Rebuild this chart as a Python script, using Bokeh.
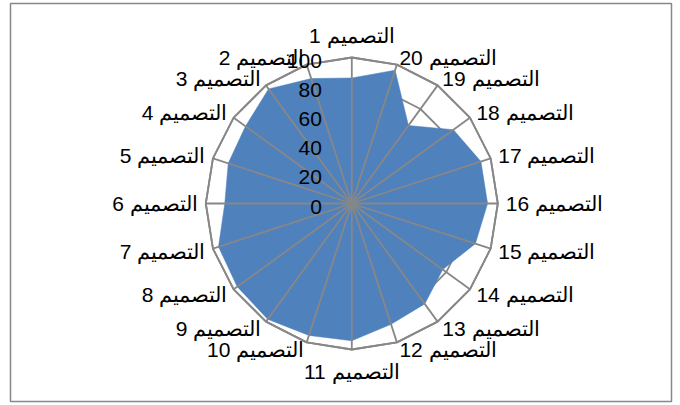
import numpy as np
from bokeh.plotting import figure
from bokeh.models import ColumnDataSource, Range1d
from bokeh.core.properties import value
from bokeh.embed import file_html
from bokeh.resources import INLINE

# ---- data ----
categories = ["التصميم 1", "التصميم 2", "التصميم 3", "التصميم 4", "التصميم 5",
              "التصميم 6", "التصميم 7", "التصميم 8", "التصميم 9", "التصميم 10",
              "التصميم 11", "التصميم 12", "التصميم 13", "التصميم 14", "التصميم 15",
              "التصميم 16", "التصميم 17", "التصميم 18", "التصميم 19", "التصميم 20"]
values = [86, 90, 97, 90, 89, 87, 96, 97, 98, 95, 94, 87, 85, 77, 89, 93, 93, 86, 66, 96]
ticks = [0, 20, 40, 60, 80, 100]
tick_labels = ["0", "20", "40", "60", "80", "100"]

# ---- layout ----
W, H = 680, 405
ml, mt, mr, mb = 10, 3, 9, 4
k = 1.46                     # px per value unit
cx_px, cy_px = 351.3, 203.0  # centre in page pixels
fw, fh = W - ml - mr, H - mt - mb
x0 = -(cx_px - ml) / k
x1 = (fw - (cx_px - ml)) / k
y0 = -((H - mb) - cy_px) / k
y1 = (cy_px - mt) / k

GRID = "#878787"
FONT = "Liberation Sans"

p = figure(width=W, height=H, x_range=Range1d(x0, x1), y_range=Range1d(y0, y1),
           min_border_left=ml, min_border_right=mr, min_border_top=mt, min_border_bottom=mb,
           x_axis_location=None, y_axis_location=None,
           toolbar_location=None, output_backend="svg")
p.grid.visible = False
p.outline_line_color = GRID
p.outline_line_width = 1.5
p.background_fill_color = "white"
p.border_fill_color = "white"

n = len(categories)
ang = np.deg2rad(90 + np.arange(n) * 360.0 / n)
rmax = max(ticks)

# rings (behind the series)
ring_xs, ring_ys = [], []
for t in ticks[1:]:
    ring_xs.append(list(np.append(t * np.cos(ang), t * np.cos(ang[0]))))
    ring_ys.append(list(np.append(t * np.sin(ang), t * np.sin(ang[0]))))
p.multi_line(ring_xs, ring_ys, line_color=GRID, line_width=1.8)

# series
vals = np.array(values, dtype=float)
p.patch(list(vals * np.cos(ang)), list(vals * np.sin(ang)),
        fill_color="#4F81BD", line_color="#4F81BD", line_width=0.5)

# spokes on top
sx = [[0, rmax * np.cos(a)] for a in ang]
sy = [[0, rmax * np.sin(a)] for a in ang]
p.multi_line(sx, sy, line_color=GRID, line_width=1.8)

# outer ring again on top
p.line(ring_xs[-1], ring_ys[-1], line_color=GRID, line_width=1.8)

# radial tick labels
p.text(x=[-20.5] * len(ticks), y=ticks, text=tick_labels,
       text_align="right", text_baseline="middle", y_offset=3,
       text_font=value(FONT), text_font_size="21px", text_color="black")

# category labels
lx, ly, al, bl = [], [], [], []
for a in ang:
    c, s = np.cos(a), np.sin(a)
    if abs(c) < 1e-6:
        r = rmax + 22 / k
        al.append("center")
    else:
        r = rmax + 8 / k
        al.append("left" if c > 0 else "right")
    lx.append(r * c)
    ly.append(r * s)
    bl.append("middle")
src = ColumnDataSource(dict(x=lx, y=ly, t=categories, a=al, b=bl))
p.text(x="x", y="y", text="t", source=src, text_align="a", text_baseline="b",
       text_font=value(FONT), text_font_size="21px", text_color="black")

open("out.html", "w").write(file_html(p, INLINE))
